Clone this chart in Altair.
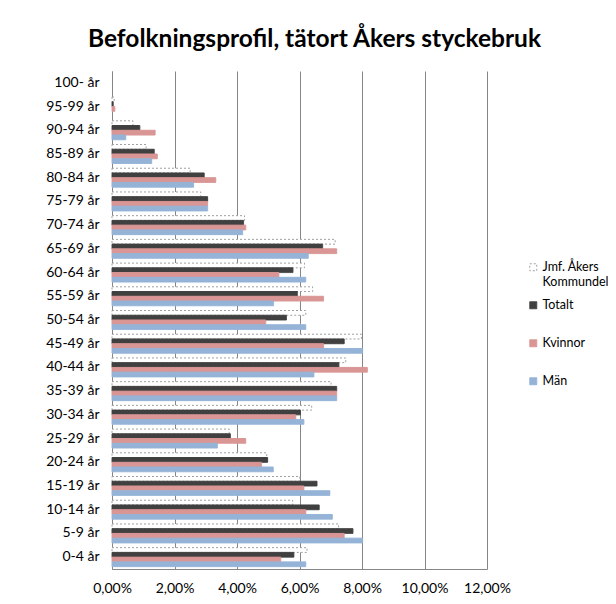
import altair as alt
import pandas as pd

ages = ["100- år", "95-99 år", "90-94 år", "85-89 år", "80-84 år", "75-79 år",
        "70-74 år", "65-69 år", "60-64 år", "55-59 år", "50-54 år", "45-49 år",
        "40-44 år", "35-39 år", "30-34 år", "25-29 år", "20-24 år", "15-19 år",
        "10-14 år", "5-9 år", "0-4 år"]

series = ["Jmf. Åkers Kommundel", "Totalt", "Kvinnor", "Män"]

# values in percent
jmf     = [0.00, 0.07, 0.67, 1.09, 2.50, 2.84, 4.24, 7.14, 6.16, 6.42, 6.20, 7.98,
           7.48, 7.01, 6.39, 3.75, 4.95, 6.01, 5.78, 7.25, 6.24]
totalt  = [0.00, 0.04, 0.89, 1.35, 2.95, 3.06, 4.21, 6.74, 5.79, 5.93, 5.58, 7.43,
           7.26, 7.19, 6.03, 3.79, 4.98, 6.56, 6.63, 7.71, 5.82]
kvinnor = [0.00, 0.09, 1.38, 1.45, 3.32, 3.06, 4.28, 7.19, 5.34, 6.77, 4.92, 6.77,
           8.17, 7.19, 5.88, 4.28, 4.78, 6.14, 6.20, 7.43, 5.40]
man     = [0.00, 0.00, 0.44, 1.27, 2.61, 3.06, 4.18, 6.28, 6.20, 5.17, 6.20, 8.02,
           6.46, 7.19, 6.14, 3.37, 5.16, 6.97, 7.05, 8.02, 6.20]

x_ticks = [0, 0.02, 0.04, 0.06, 0.08, 0.10, 0.12]

rows = []
for name, vals in zip(series, [jmf, totalt, kvinnor, man]):
    for a, v in zip(ages, vals):
        if v > 0:
            rows.append({"age": a, "series": name, "value": v / 100})
df = pd.DataFrame(rows)

fills = ["#ffffff", "#404040", "#d99694", "#95b3d7"]
strokes = ["#a0a0a0", "#404040", "#d99694", "#95b3d7"]
dashes = [[2, 2], [1, 0], [1, 0], [1, 0]]

FONT = "Lato"

leg = alt.Legend(
    title=None, orient="none", legendX=415, legendY=190,
    symbolType="square", symbolSize=49, symbolStrokeWidth=1,
    labelFont=FONT, labelFontSize=12.5, labelColor="#000",
    rowPadding=10, labelOffset=3, gridAlign="all",
    labelExpr="datum.label == 'Jmf. Åkers Kommundel' ? ['Jmf. Åkers', 'Kommundel'] : datum.label",
)

chart = alt.Chart(df).mark_bar(strokeWidth=1).encode(
    y=alt.Y("age:N", sort=ages,
            scale=alt.Scale(domain=ages, paddingInner=0.2, paddingOuter=0.1),
            axis=alt.Axis(title=None, ticks=False, labelPadding=13,
                          domainColor="#868686", labelFont=FONT, labelFontSize=14,
                          labelColor="#000", grid=False)),
    yOffset=alt.YOffset("series:N", sort=series,
                        scale=alt.Scale(domain=series, paddingInner=0, paddingOuter=0)),
    x=alt.X("value:Q", scale=alt.Scale(domain=[0, 0.12], nice=False),
            axis=alt.Axis(title=None, values=x_ticks, ticks=False, labelPadding=12,
                          labelFlush=False, labelOverlap=False,
                          labelExpr="replace(format(datum.value, '.2%'), '.', ',')",
                          grid=True, gridColor="#868686", gridWidth=1,
                          domainColor="#868686", labelFont=FONT, labelFontSize=14,
                          labelColor="#000")),
    fill=alt.Fill("series:N", sort=series,
                  scale=alt.Scale(domain=series, range=fills), legend=leg),
    stroke=alt.Stroke("series:N", sort=series,
                      scale=alt.Scale(domain=series, range=strokes), legend=leg),
    strokeDash=alt.StrokeDash("series:N", sort=series,
                              scale=alt.Scale(domain=series, range=dashes), legend=leg),
).properties(
    width=375, height=498,
    title=alt.TitleParams("Befolkningsprofil, tätort Åkers styckebruk",
                          font=FONT, fontSize=24.5, fontWeight="bold", color="#000",
                          anchor="middle", offset=19, dx=15),
    padding={"left": 104, "top": 63, "right": 121, "bottom": 27},
    autosize="none",
).configure_view(stroke=None)

chart.save("out.html", embed_options={"renderer": "svg", "actions": False})
